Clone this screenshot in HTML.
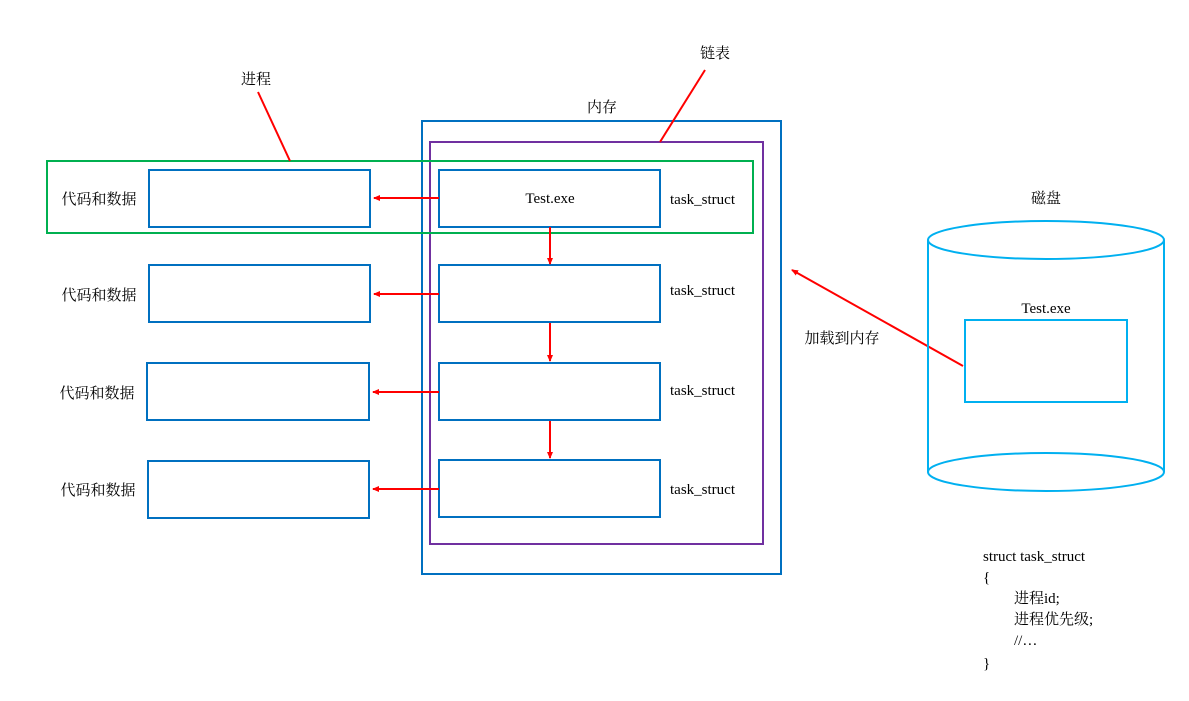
<!DOCTYPE html>
<html><head><meta charset="utf-8"><style>
html,body{margin:0;padding:0;background:#fff;}
svg{display:block;}
text{font-family:"Liberation Serif","Noto Serif CJK SC","Noto Sans CJK SC",serif;font-size:15px;fill:#000;}
.c{font-family:"Liberation Serif","Noto Serif CJK SC",serif;font-size:15px;}
</style></head><body>
<svg width="1189" height="701" viewBox="0 0 1189 701" xmlns="http://www.w3.org/2000/svg">
<defs>
<marker id="a" markerWidth="8" markerHeight="8" refX="6" refY="4" orient="auto" markerUnits="userSpaceOnUse">
<path d="M0,1 L7,4 L0,7 Z" fill="#ff0000"/></marker>
</defs>
<g fill="none" stroke-width="2">
<rect x="422" y="121" width="359" height="453" stroke="#0070c0"/>
<rect x="430" y="142" width="333" height="402" stroke="#7030a0"/>
<rect x="47" y="161" width="706" height="72" stroke="#00b050"/>
<g stroke="#0070c0">
<rect x="149" y="170" width="221" height="57"/>
<rect x="149" y="265" width="221" height="57"/>
<rect x="147" y="363" width="222" height="57"/>
<rect x="148" y="461" width="221" height="57"/>
<rect x="439" y="170" width="221" height="57"/>
<rect x="439" y="265" width="221" height="57"/>
<rect x="439" y="363" width="221" height="57"/>
<rect x="439" y="460" width="221" height="57"/>
</g>
<g stroke="#ff0000" marker-end="url(#a)">
<line x1="439" y1="198" x2="374" y2="198"/>
<line x1="439" y1="294" x2="374" y2="294"/>
<line x1="439" y1="392" x2="373" y2="392"/>
<line x1="439" y1="489" x2="373" y2="489"/>
<line x1="550" y1="227" x2="550" y2="264"/>
<line x1="550" y1="323" x2="550" y2="361"/>
<line x1="550" y1="421" x2="550" y2="458"/>
<line x1="963" y1="366" x2="792" y2="270"/>
</g>
<g stroke="#ff0000">
<line x1="258" y1="92" x2="290" y2="161"/>
<line x1="705" y1="70" x2="660" y2="142"/>
</g>
<g stroke="#00b0f0">
<line x1="928" y1="240" x2="928" y2="472"/>
<line x1="1164" y1="240" x2="1164" y2="472"/>
<ellipse cx="1046" cy="240" rx="118" ry="19"/>
<path d="M928,472 A118,19 0 0 1 1164,472 A118,19 0 0 1 928,472"/>
<rect x="965" y="320" width="162" height="82"/>
</g>
</g>
<text x="256" y="84" text-anchor="middle">进程</text>
<text x="715" y="58" text-anchor="middle">链表</text>
<text x="602" y="112" text-anchor="middle">内存</text>
<text x="1046" y="203" text-anchor="middle">磁盘</text>
<text x="1046" y="313" text-anchor="middle">Test.exe</text>
<text x="842" y="343" text-anchor="middle">加载到内存</text>
<text x="550" y="203" text-anchor="middle">Test.exe</text>
<text x="670" y="204">task_struct</text>
<text x="670" y="295">task_struct</text>
<text x="670" y="395">task_struct</text>
<text x="670" y="494">task_struct</text>
<text x="99" y="204" text-anchor="middle">代码和数据</text>
<text x="99" y="300" text-anchor="middle">代码和数据</text>
<text x="97" y="398" text-anchor="middle">代码和数据</text>
<text x="98" y="495" text-anchor="middle">代码和数据</text>
<text x="983" y="561">struct task_struct</text>
<text x="983" y="582">{</text>
<text x="1014" y="603">进程id;</text>
<text x="1014" y="624">进程优先级;</text>
<text x="1014" y="645">//…</text>
<text x="983" y="668">}</text>
</svg>
</body></html>
